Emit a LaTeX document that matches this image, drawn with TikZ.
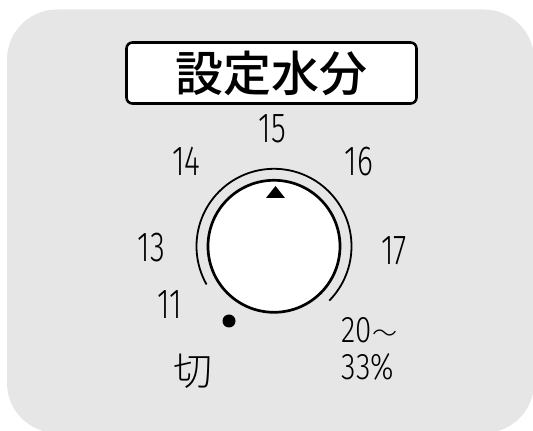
\documentclass[tikz,border=0pt]{standalone}
\usepackage{fontspec}
\newfontfamily\dialfont[FakeStretch=0.72]{Fira Sans Light}
\newfontfamily\rangefont[FakeStretch=0.8]{Fira Sans Light}
\newfontfamily\cjkfont{Noto Sans CJK JP Medium}
\newfontfamily\cjklight{Noto Sans CJK JP Light}
\definecolor{panelgray}{RGB}{230,230,230}
\tikzset{
  dialpanel/.style={x=1pt,y=1pt},
  scalenum/.style={inner sep=0pt,font=\dialfont\fontsize{42}{42}\selectfont},
  titlebox/.style={draw,fill=white,line width=2.6pt,rounded corners=6pt,
    minimum width=290pt,minimum height=61pt,inner sep=0pt,
    font=\cjkfont\fontsize{48}{48}\selectfont},
  knob/.style={circle,draw,fill=white,line width=2.7pt,minimum size=132pt,inner sep=0pt},
}

\begin{document}
\begin{tikzpicture}[dialpanel]
    \useasboundingbox (0,0) rectangle (533,431);
    \fill[panelgray,rounded corners=50pt] (7,-2) rectangle (534,421.5);
    \node[titlebox] (title) at (271.5,358) {設定水分};
    % dial
    \node[knob] (knob) at (274,184.7) {};
    \draw[line width=1.8pt] (knob.center) ++(-44.5:77.5) arc[start angle=-44.5,end angle=209.5,radius=77.5];
    \fill (knob.center) ++(1.5,60.3) -- ++(-9.5,-12) -- ++(19,0) -- cycle;
    \node[circle,fill,minimum size=13pt,inner sep=0pt] (offdot) at (229,110) {};
    % scale
    \foreach \v/\x/\y in {15/272.5/302.5, 14/186.5/270, 16/359/269,
                          13/151.5/183.5, 17/394/180.5, 11/170/126}
      \node[scalenum] (n\v) at (\x,\y) {\v};
    \node[inner sep=0pt,anchor=north west,align=left,font=\rangefont\fontsize{37}{37}\selectfont]
      (nmax) at (341.5,113.5) {20{\cjklight\fontsize{25}{25}\selectfont 〜}\\33\%};
    \node[inner sep=0pt,font=\cjklight\fontsize{39}{39}\selectfont] (off) at (192.5,59.5) {切};
  \end{tikzpicture}
\end{document}
